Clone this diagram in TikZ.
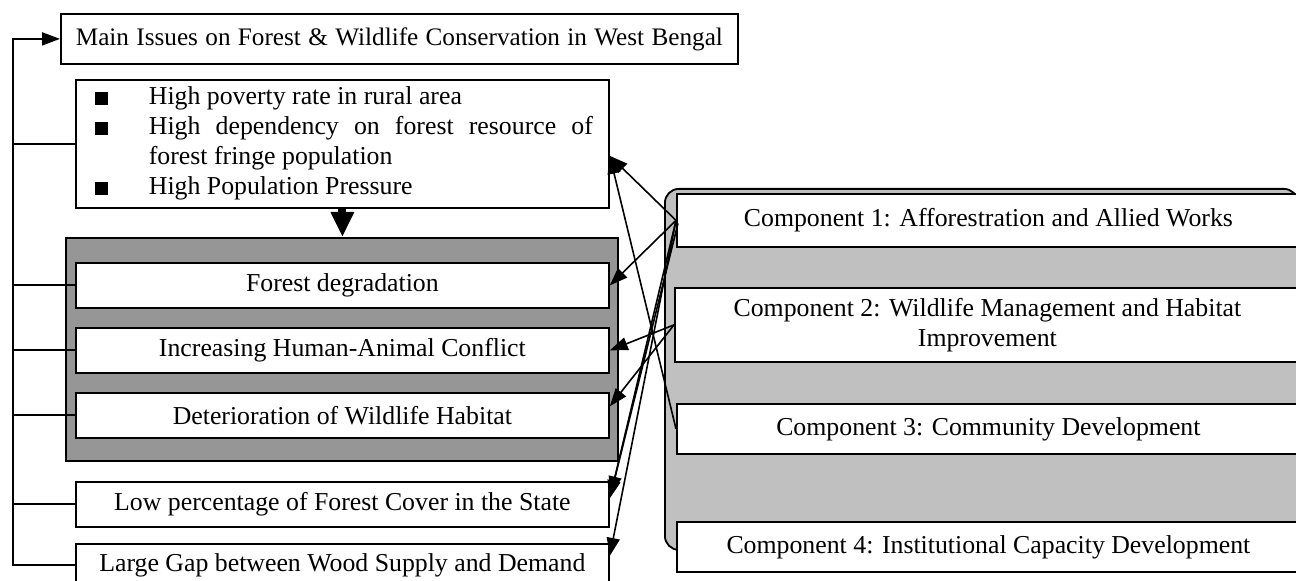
\documentclass[tikz,border=0pt]{standalone}
\usepackage{fontspec}
\setmainfont{Liberation Serif}
\usetikzlibrary{arrows.meta,calc}
\definecolor{issueband}{RGB}{150,150,150}
\definecolor{compband}{RGB}{192,192,192}
\newcommand{\sqbul}{\rule{6.5pt}{6.5pt}}
\begin{document}
\hyphenpenalty=10000
\begin{tikzpicture}[x=0.5pt,y=-0.5pt,
  font=\fontsize{12.9}{15}\selectfont,
  box/.style={draw, line width=0.9pt, fill=white, inner sep=0pt, anchor=north west, align=center},
  band/.style={draw, line width=0.9pt, inner sep=0pt, anchor=north west},
  link/.style={line width=0.8pt, -{Triangle[length=9pt,width=6.5pt]}},
  rail/.style={line width=0.9pt}]
\useasboundingbox (0,0) rectangle (1296,581);

% heading
\node[box, minimum width=338.5pt, minimum height=25pt, inner xsep=7.5pt, font=\fontsize{12.6}{15}\selectfont] (title) at (60,13)
  {\makebox[323.5pt][s]{Main Issues on Forest \& Wildlife Conservation in West Bengal}};

% root causes
\node[box, minimum width=266.5pt, minimum height=64pt, yshift=-1pt] (causes) at (75,77)
  {\begin{tabular}{@{\hspace{9.5pt}}p{27pt}@{}p{222pt}@{\hspace{8pt}}}
   \sqbul & High poverty rate in rural area\\
   \sqbul & High dependency on forest resource of\linebreak forest fringe population\\
   \sqbul & High Population Pressure
   \end{tabular}};

% grouped issues
\node[band, fill=issueband, minimum width=276pt, minimum height=111.5pt] (issues) at (65,237) {};
\node[box, minimum width=266.5pt, minimum height=22.5pt] (fdeg) at (75,262) {Forest degradation};
\node[box, minimum width=266.5pt, minimum height=22.5pt] (hac) at (75,327) {Increasing Human-Animal Conflict};
\node[box, minimum width=266.5pt, minimum height=22.5pt] (wild) at (75,392) {Deterioration of Wildlife Habitat};
\node[box, minimum width=266.5pt, minimum height=22.5pt] (lowpct) at (75,481) {Low percentage of Forest Cover in the State};
\node[box, minimum width=266.5pt, minimum height=21pt] (gap) at (75,543) {Large Gap between Wood Supply and Demand};

% project components
\node[band, fill=compband, rounded corners=7pt, minimum width=316.5pt, minimum height=180.5pt] (comps) at (664,188) {};
\node[box, minimum width=311.5pt, minimum height=26.5pt] (c1) at (676,193) {Component 1: Afforestration and Allied Works};
\node[box, minimum width=312.5pt, minimum height=37pt] (c2) at (674,287) {Component 2: Wildlife Management and Habitat\\Improvement};
\node[box, minimum width=311.5pt, minimum height=25pt] (c3) at (676,403) {Component 3: Community Development};
\node[box, minimum width=311.5pt, minimum height=25pt] (c4) at (676,521) {Component 4: Institutional Capacity Development};

% causes lead to the grouped issues
\draw[line width=4pt, -{Triangle[length=12.5pt,width=11pt]}] (causes.south) -- (causes.south |- issues.north);

% feedback rail on the left
\coordinate (railtop) at ($(title.west)+(-47,0)$);
\draw[rail, -{Triangle[length=9pt,width=6.5pt]}] (gap.west) -| (railtop) -- (title.west);
\foreach \b in {causes,fdeg,hac,wild,lowpct}
  \draw[rail] (\b.west) -- (\b.west -| railtop);

% components addressing issues
\draw[link] (c1.west) -- ($(causes.east)+(0,12)$);
\draw[link] (c3.west) -- ($(causes.east)+(0,12)$);
\draw[link] (c1.west) -- (fdeg.east);
\draw[link] (c2.west) -- (hac.east);
\draw[link] (c2.west) -- ($(wild.east)+(0,-9)$);
\draw[link] (c1.west) -- ($(lowpct.east)+(0,-6)$);
\draw[link] ($(c1.west)+(2,3)$) -- ($(lowpct.east)+(1,-10)$);
\draw[link] (c1.west) -- ($(gap.east)+(0,-9)$);
\end{tikzpicture}
\end{document}
